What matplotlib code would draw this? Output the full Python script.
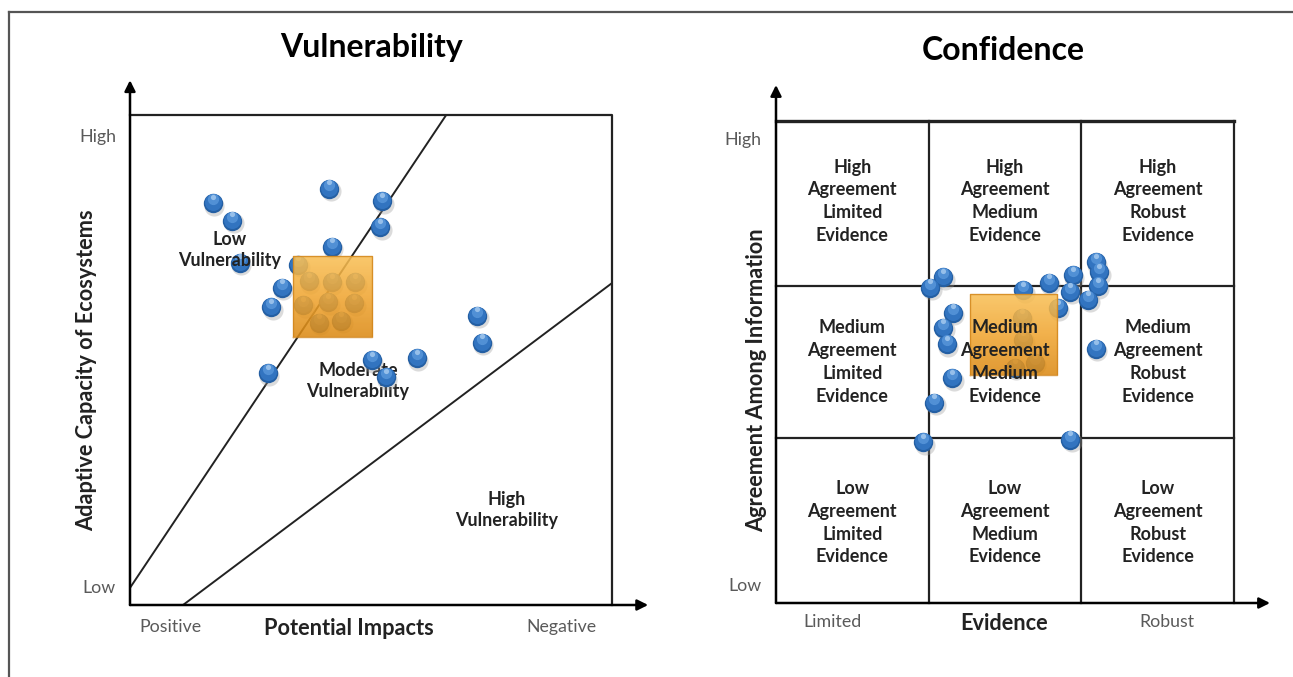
import matplotlib
matplotlib.use("Agg")
import matplotlib.pyplot as plt
import matplotlib.transforms as mtransforms
from matplotlib.colors import LinearSegmentedColormap
import numpy as np

plt.rcParams['font.family'] = ['Lato', 'DejaVu Sans']

# ---- Vulnerability panel data (axes run 0..10 both ways) ----
vul_x = [1.72, 2.12, 2.28, 4.13, 5.23, 5.19, 4.19, 3.49, 3.15, 2.93,
         2.86, 5.02, 5.31, 5.95, 7.20, 7.30]
vul_y = [8.20, 7.84, 6.98, 8.49, 8.24, 7.71, 7.31, 6.94, 6.47, 6.08,
         4.73, 5.00, 4.65, 5.04, 5.90, 5.35]
# points hidden behind the orange square
vul_hidden_x = [3.71, 4.19, 4.67, 3.59, 4.11, 4.65, 3.92, 4.38]
vul_hidden_y = [6.61, 6.59, 6.59, 6.12, 6.18, 6.16, 5.76, 5.80]
vul_square = (3.38, 5.02, 5.47, 7.12)  # x0, x1, y0, y1
vul_line1 = ([0.0, 6.56], [0.35, 10.0])
vul_line2 = ([1.10, 10.0], [0.0, 6.57])
vul_regions = ["Low\nVulnerability", "Moderate\nVulnerability", "High\nVulnerability"]
vul_region_x = [2.07, 4.73, 7.82]
vul_region_y = [7.24, 4.57, 1.94]

# ---- Confidence panel data (axes run 0..3 both ways) ----
conf_x = [1.094, 1.009, 1.618, 1.788, 1.945, 2.096, 2.116, 2.109, 2.044, 1.926,
          1.847, 1.159, 1.094, 1.120, 1.153, 1.035, 0.963, 1.926, 2.096]
conf_y = [2.029, 1.961, 1.948, 1.992, 2.041, 2.122, 2.060, 1.973, 1.886, 1.936,
          1.836, 1.805, 1.712, 1.612, 1.400, 1.245, 1.002, 1.015, 1.581]
conf_hidden_x = [1.611, 1.618, 1.565, 1.696]
conf_hidden_y = [1.774, 1.637, 1.463, 1.494]
conf_square = (1.271, 1.841, 1.419, 1.923)
conf_col_edges = [0, 1.0, 2.0, 3.0]
conf_row_edges = [0, 1.03, 1.97, 3.0]
agreement = ["Low", "Medium", "High"]
evidence = ["Limited", "Medium", "Robust"]

TXT = '#222222'
TICK = '#5a5a5a'
LBL = 13       # region / cell labels
AXL = 15.7     # axis titles
TK = 12.8      # High/Low etc.

fig = plt.figure(figsize=(12.93, 6.77), dpi=100)


def draw_spheres(ax, xs, ys, z):
    def off(dx, dy):
        return mtransforms.offset_copy(ax.transData, fig=fig, x=dx, y=dy, units='dots')
    ax.scatter(xs, ys, s=210, color='#9a9a9a', alpha=0.35, lw=0,
               transform=off(1.5, -2.5), zorder=z, clip_on=False)
    ax.scatter(xs, ys, s=195, color='#245fa3', lw=0, zorder=z + 0.1, clip_on=False)
    ax.scatter(xs, ys, s=150, color='#3274c0', lw=0, transform=off(0, 1),
               zorder=z + 0.2, clip_on=False)
    ax.scatter(xs, ys, s=65, color='#5a98db', alpha=0.8, lw=0, transform=off(0, 4),
               zorder=z + 0.3, clip_on=False)
    ax.scatter(xs, ys, s=14, color='#b4d4f3', alpha=0.7, lw=0, transform=off(0, 6.5),
               zorder=z + 0.4, clip_on=False)


def draw_square(ax, box, z):
    x0, x1, y0, y1 = box
    cmap = LinearSegmentedColormap.from_list('orng', ['#dc8a14', '#f0a530', '#f8bf55'])
    grad = np.linspace(0, 1, 64).reshape(-1, 1)
    ax.imshow(grad, extent=(x0, x1, y0, y1), origin='lower', cmap=cmap,
              aspect='auto', alpha=0.87, zorder=z)
    ax.plot([x0, x1, x1, x0, x0], [y0, y0, y1, y1, y0], color='#d0841a', lw=1.0,
            alpha=0.8, zorder=z + 0.1)


def arrow(ax, x0, y0, x1, y1):
    ax.annotate("", xy=(x1, y1), xytext=(x0, y0), annotation_clip=False,
                arrowprops=dict(arrowstyle='-|>', color='black', lw=1.8,
                                mutation_scale=16, shrinkA=0, shrinkB=0))


# ---------------- Vulnerability ----------------
ax1 = fig.add_axes([130 / 1293, 72 / 677, 482 / 1293, 490 / 677])
ax1.set_xlim(0, 10)
ax1.set_ylim(0, 10)
ax1.axis('off')

ax1.plot([0, 10, 10], [10, 10, 0], color='#222222', lw=1.6, clip_on=False)
ax1.plot(*vul_line1, color='#222222', lw=1.4)
ax1.plot(*vul_line2, color='#222222', lw=1.4)
arrow(ax1, 0, 0, 0, 10.71)
arrow(ax1, 0, 0, 10.75, 0)

draw_spheres(ax1, vul_hidden_x, vul_hidden_y, 3)
draw_spheres(ax1, vul_x, vul_y, 3)
draw_square(ax1, vul_square, 5)
ax1.set_xlim(0, 10)
ax1.set_ylim(0, 10)

for label, tx, ty in zip(vul_regions, vul_region_x, vul_region_y):
    ax1.text(tx, ty, label, ha='center', va='center', fontsize=LBL, fontweight='bold',
             color=TXT, linespacing=1.3, zorder=2.5 if label.startswith("Moderate") else 7)

ax1.text(-0.66, 9.55, "High", ha='center', va='center', fontsize=TK, color=TICK)
ax1.text(-0.64, 0.35, "Low", ha='center', va='center', fontsize=TK, color=TICK)
ax1.text(0.83, -0.45, "Positive", ha='center', va='center', fontsize=TK, color=TICK)
ax1.text(8.96, -0.45, "Negative", ha='center', va='center', fontsize=TK, color=TICK)
ax1.text(4.54, -0.47, "Potential Impacts", ha='center', va='center', fontsize=AXL,
         fontweight='bold', color=TXT)
ax1.text(-0.91, 4.80, "Adaptive Capacity of Ecosystems", ha='center', va='center',
         rotation=90, fontsize=AXL, fontweight='bold', color=TXT)

# ---------------- Confidence ----------------
ax2 = fig.add_axes([776 / 1293, 74 / 677, 458 / 1293, 482 / 677])
ax2.set_xlim(0, 3)
ax2.set_ylim(0, 3)
ax2.axis('off')

for xe in conf_col_edges[1:]:
    ax2.plot([xe, xe], [0, 3], color='#222222', lw=1.6, clip_on=False)
for ye in conf_row_edges[1:3]:
    ax2.plot([0, 3], [ye, ye], color='#222222', lw=1.6, clip_on=False)
ax2.plot([0, 3], [3, 3], color='#222222', lw=2.4, clip_on=False)
arrow(ax2, 0, 0, 0, 3.224)
arrow(ax2, 0, 0, 3.236, 0)

draw_spheres(ax2, conf_hidden_x, conf_hidden_y, 3)
draw_spheres(ax2, conf_x, conf_y, 3)
draw_square(ax2, conf_square, 5)
ax2.set_xlim(0, 3)
ax2.set_ylim(0, 3)

for r, agr in enumerate(agreement):
    for c, ev in enumerate(evidence):
        ax2.text(c + 0.5, r + 0.5, f"{agr}\nAgreement\n{ev}\nEvidence", ha='center',
                 va='center', fontsize=LBL, fontweight='bold', color=TXT,
                 linespacing=1.42, zorder=7)

ax2.text(-0.216, 2.88, "High", ha='center', va='center', fontsize=TK, color=TICK)
ax2.text(-0.203, 0.106, "Low", ha='center', va='center', fontsize=TK, color=TICK)
ax2.text(0.367, -0.118, "Limited", ha='center', va='center', fontsize=TK, color=TICK)
ax2.text(2.561, -0.118, "Robust", ha='center', va='center', fontsize=TK, color=TICK)
ax2.text(1.493, -0.13, "Evidence", ha='center', va='center', fontsize=AXL,
         fontweight='bold', color=TXT)
ax2.text(-0.124, 1.388, "Agreement Among Information", ha='center', va='center',
         rotation=90, fontsize=AXL, fontweight='bold', color=TXT)

# titles
fig.text(372 / 1293, 1 - 47 / 677, "Vulnerability", ha='center', va='center',
         fontsize=23, fontweight='bold', color='black')
fig.text(1003 / 1293, 1 - 51 / 677, "Confidence", ha='center', va='center',
         fontsize=23, fontweight='bold', color='black')

# frame around the figure (top and left edges)
fig.add_artist(plt.Line2D([9 / 1293, 1], [1 - 12 / 677, 1 - 12 / 677],
                          color='#555555', lw=1.6, transform=fig.transFigure))
fig.add_artist(plt.Line2D([9 / 1293, 9 / 1293], [0, 1 - 12 / 677],
                          color='#555555', lw=1.6, transform=fig.transFigure))

fig.savefig("out.png", dpi=100)
